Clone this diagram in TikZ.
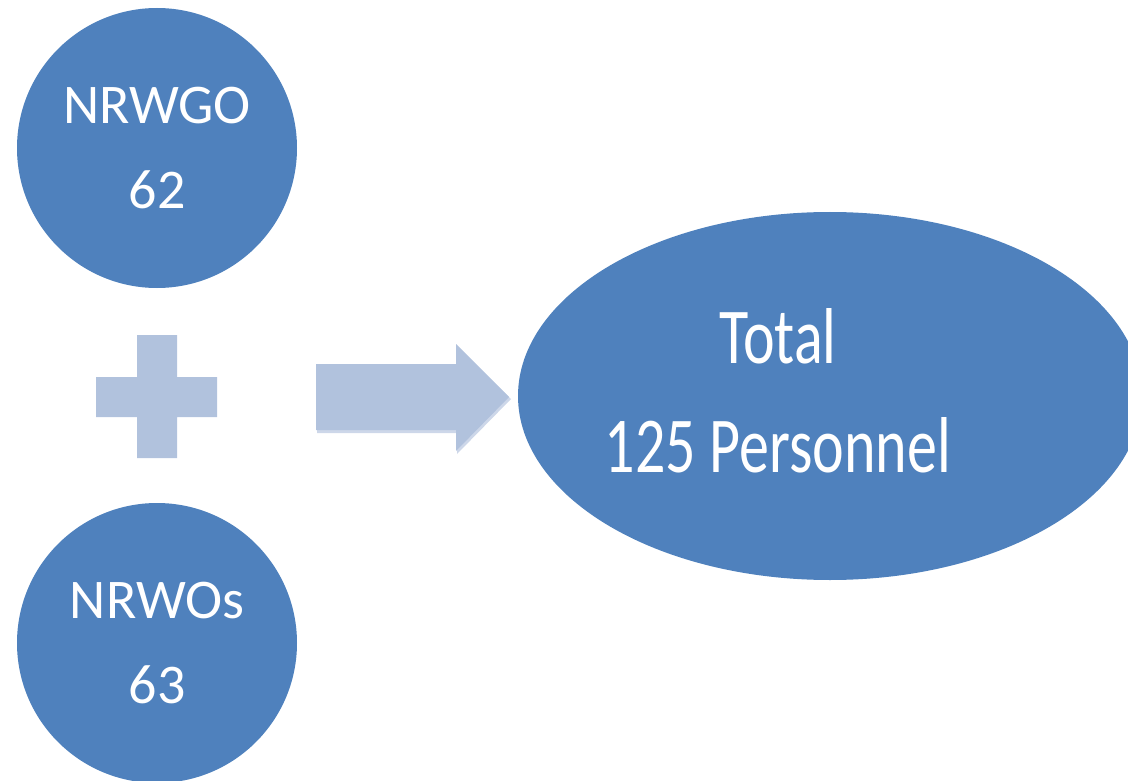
\documentclass[tikz,border=0pt]{standalone}
\usepackage{fontspec}
\setmainfont{Carlito}
\usetikzlibrary{shapes.geometric}

\definecolor{accentblue}{RGB}{79,129,189}
\definecolor{paleblue}{RGB}{177,194,221}
\definecolor{paleshadow}{RGB}{205,215,233}

\tikzset{
  countcircle/.style={circle, fill=accentblue, minimum size=280pt, inner sep=0pt,
    text=white, align=center, font=\fontsize{56}{85}\selectfont},
  totaloval/.style={ellipse, fill=accentblue, minimum width=624pt, minimum height=368pt,
    inner sep=-12pt, text=white, font=\fontsize{60}{83}\selectfont},
  symbolfill/.style={fill=paleblue},
}

\begin{document}
\begin{tikzpicture}[x=1pt, y=-1pt]
  \useasboundingbox (0,0) rectangle (1128,781);

  % the two groups being added
  \node[countcircle] (nrwgo) at (157,148) {NRWGO\\62};
  \node[countcircle] (nrwos) at (157,643) {NRWOs\\63};

  % plus sign between the groups
  \fill[symbolfill] (137,335) -- (177,335) -- (177,377) -- (217,377) -- (217,417)
    -- (177,417) -- (177,458) -- (137,458) -- (137,417) -- (96,417) -- (96,377)
    -- (137,377) -- cycle;

  % block arrow leading to the total, with a faint shadow
  \fill[paleshadow] (317,367) -- (457,367) -- (457,347) -- (511,399) -- (457,454)
    -- (457,433) -- (317,433) -- cycle;
  \fill[symbolfill] (316,364) -- (456,364) -- (456,344) -- (509,397) -- (456,451)
    -- (456,430) -- (316,430) -- cycle;

  % the total; the invisible rule sets the label a little left of the centre
  \node[totaloval] (total) at (830,396)
    {\scalebox{1}[1.32]{\begin{tabular}{@{}c@{}}Total\\125 Personnel\end{tabular}}\rule{104pt}{0pt}};
\end{tikzpicture}
\end{document}
